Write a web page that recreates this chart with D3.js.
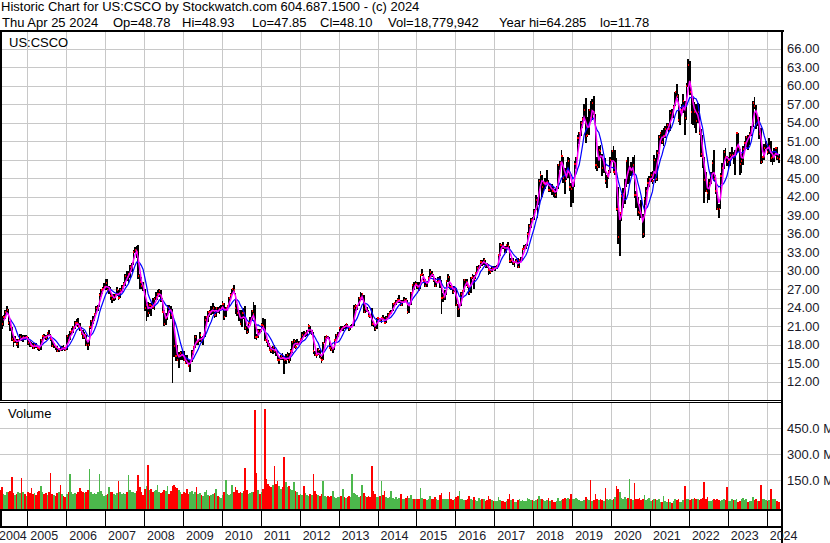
<!DOCTYPE html>
<html>
<head>
<meta charset="utf-8">
<script src="https://cdn.jsdelivr.net/npm/d3@7"></script>
<style>
body { margin: 0; background: #fff; }
svg { display: block; font-family: "Liberation Sans", Arial, sans-serif; }
</style>
</head>
<body>
<svg id="chart" width="830" height="543"></svg>
<script>
// half-month bars (1st-15th, 16th-end), first one is the 2nd half of April 2004
var hi = [
 23.2,22.6,22.8,23.6,24.2,23.8,21.8,20.8,19.5,19.4,19.0,19.0,19.8,19.7,19.6,19.6,19.6,
 19.2,18.6,18.4,18.2,18.3,18.2,18.0,17.6,18.9,19.6,19.8,19.6,20.1,20.4,19.8,18.8,18.2,18.0,17.8,17.5,17.6,17.8,17.9,17.6,
 19.5,19.7,20.3,20.7,21.0,21.8,22.1,22.3,21.6,20.8,20.4,20.0,19.6,18.4,21.0,22.0,22.6,23.2,24.2,24.5,26.4,27.0,27.4,28.0,
 28.6,28.6,27.6,27.4,26.2,26.2,26.3,27.3,26.9,27.2,27.7,28.1,29.4,30.0,30.0,31.0,31.3,33.3,33.8,34.0,34.2,29.4,28.9,28.1,
 27.0,25.0,25.0,24.8,24.8,25.6,25.8,26.6,26.8,27.0,26.9,25.5,23.6,23.2,24.5,24.5,24.2,23.8,22.0,18.9,18.0,16.8,17.0,17.0,
 17.0,16.3,16.4,15.5,15.5,17.2,17.8,19.5,19.6,18.8,20.0,19.3,19.4,22.7,22.7,23.4,23.7,24.3,24.8,24.2,24.1,24.1,24.2,24.4,
 25.1,24.7,24.1,24.5,25.8,26.4,27.1,27.7,26.4,24.6,23.6,23.6,23.7,24.0,24.2,21.0,21.8,22.5,23.6,24.9,24.5,19.8,20.5,20.6,
 21.5,22.3,22.1,19.0,18.8,18.2,17.6,17.8,17.9,17.0,16.9,16.0,16.3,16.6,16.2,16.5,16.8,16.6,17.3,18.6,18.9,18.7,18.9,18.6,
 19.0,20.0,20.2,20.0,20.4,21.3,21.0,20.4,20.1,17.0,16.6,17.4,17.2,16.0,18.5,19.4,19.6,19.4,19.3,18.0,17.6,18.8,19.7,20.0,
 20.8,21.1,21.0,21.2,21.4,21.3,21.0,21.2,21.4,24.5,24.6,24.5,25.8,26.5,26.4,26.0,23.9,24.1,23.6,23.0,24.0,21.5,21.4,22.4,
 22.5,22.4,22.5,22.8,22.5,22.6,23.1,23.4,23.6,24.8,24.9,25.2,25.5,26.0,25.2,25.2,25.8,25.5,25.2,24.6,26.6,27.8,28.1,28.3,
 28.1,28.2,29.5,30.2,29.5,28.6,28.3,29.1,30.3,29.9,29.5,28.8,28.4,28.9,29.1,28.5,26.4,26.8,28.4,29.4,29.2,27.7,27.6,27.6,
 27.2,24.6,24.3,26.6,26.8,28.7,28.7,28.6,27.5,29.0,29.5,29.3,29.8,30.8,31.0,31.8,31.8,32.0,31.7,31.3,31.1,30.4,30.7,30.7,
 30.7,31.0,32.7,34.5,34.3,34.6,34.0,34.4,34.6,34.0,32.0,32.1,31.6,31.9,32.1,31.9,32.3,33.7,34.1,34.4,36.2,37.5,38.5,38.7,
 40.0,42.2,42.0,44.8,46.2,45.5,44.5,45.0,46.4,44.7,44.0,44.0,43.6,43.2,43.8,47.3,47.8,49.5,48.5,46.6,47.6,48.4,48.3,44.2,
 44.4,47.8,48.5,52.0,52.5,54.3,55.0,57.0,58.0,55.0,56.3,57.5,57.8,58.3,55.4,48.5,50.2,50.4,49.0,47.9,48.3,45.5,46.4,48.4,
 49.6,50.3,49.5,48.2,43.5,39.6,42.5,43.4,44.8,48.0,48.5,47.0,47.7,48.4,48.7,43.0,42.0,40.8,41.5,39.2,41.9,43.6,45.1,45.4,
 46.0,46.2,48.8,48.3,49.6,52.0,52.5,52.8,53.2,53.5,54.0,53.9,56.0,56.3,56.9,59.0,60.2,58.6,56.0,57.0,58.7,57.6,60.4,64.3,
 64.0,59.5,58.0,57.3,57.0,57.2,57.0,53.0,52.0,48.5,46.0,43.6,44.8,46.0,48.0,49.5,45.5,42.8,40.8,45.8,47.5,49.5,49.9,48.6,
 48.5,49.3,50.0,49.2,49.5,52.5,52.3,49.8,49.0,50.2,51.0,51.8,52.0,52.5,53.5,57.5,58.2,56.8,55.0,55.0,53.2,48.6,50.6,51.1,
 50.6,51.5,51.1,49.2,49.9,50.0,50.0,48.9
];
var lo = [
 21.4,20.6,21.0,22.2,23.0,21.2,20.2,18.6,17.7,18.2,17.8,17.5,18.6,18.6,18.5,18.8,18.9,
 18.0,17.6,17.6,17.3,17.3,17.5,17.2,16.9,17.2,18.6,19.0,18.8,19.0,19.4,18.6,17.6,17.5,17.2,16.8,16.8,16.9,17.0,17.2,16.9,
 17.1,18.6,18.8,19.7,19.9,20.6,21.1,20.8,20.2,19.6,19.0,18.9,17.8,17.1,17.8,20.6,21.3,21.8,22.9,23.5,24.1,25.8,26.3,27.0,
 26.8,26.5,26.3,25.3,24.8,25.1,25.3,25.9,25.2,25.6,26.5,27.0,27.6,28.4,28.0,28.8,29.8,31.0,32.8,32.1,28.6,27.1,27.1,26.7,
 23.5,21.8,22.5,23.0,22.7,23.8,23.6,25.2,25.2,25.8,25.0,23.2,21.0,21.2,22.0,23.2,22.2,11.8,16.0,15.3,15.4,14.2,15.6,15.6,
 15.3,14.8,14.8,14.4,13.6,15.2,16.3,17.5,18.0,17.9,18.5,18.2,17.9,19.3,21.6,21.7,22.5,22.8,23.0,22.3,22.5,23.2,23.0,23.6,
 23.7,22.0,22.5,23.8,24.2,25.4,26.0,26.5,23.0,22.6,21.8,21.3,20.9,22.2,20.4,19.8,19.9,21.5,21.9,22.7,19.0,18.8,19.1,19.9,
 20.1,20.6,18.6,18.2,17.6,17.0,16.6,16.5,16.6,16.2,15.3,14.9,15.5,15.5,13.3,14.8,15.5,15.1,15.3,16.6,17.5,17.3,17.9,18.0,
 18.2,18.8,19.2,19.2,19.4,20.0,19.7,19.6,16.5,16.1,15.9,16.4,15.8,15.0,15.6,18.3,18.6,18.9,17.4,17.0,16.6,17.2,18.6,19.3,
 19.9,20.4,20.2,20.6,20.6,20.7,20.3,20.4,20.8,21.1,23.5,23.6,24.3,25.3,25.2,23.2,23.2,23.3,22.6,22.3,21.0,20.9,20.3,20.5,
 21.9,21.8,21.5,22.0,21.3,21.5,22.3,22.7,22.9,23.4,24.2,24.4,24.8,24.8,24.2,24.3,24.9,24.9,23.0,23.1,24.4,26.3,26.9,27.6,
 27.1,26.8,27.0,29.2,28.0,27.3,27.3,28.0,28.6,29.0,28.2,27.3,27.3,28.0,27.2,23.0,25.0,25.3,26.1,28.2,27.0,26.9,26.3,26.6,
 24.2,22.5,22.5,24.2,25.8,26.6,27.6,27.2,26.1,26.4,28.6,27.0,28.6,29.7,30.2,30.4,30.7,31.0,30.5,30.4,29.3,29.4,29.8,30.1,
 30.0,30.3,30.7,32.4,33.7,33.5,32.9,32.8,33.5,31.2,31.3,30.9,30.6,31.2,30.4,30.4,31.4,31.8,33.3,33.6,34.0,35.8,37.0,37.9,
 38.3,39.8,38.5,40.6,44.0,42.0,42.6,43.2,44.0,42.8,42.7,42.2,42.0,41.8,41.8,43.2,46.3,47.2,44.2,42.5,44.7,45.0,43.0,40.3,
 40.9,43.5,46.5,48.1,50.5,51.8,53.2,54.5,50.7,51.7,52.0,54.4,54.5,55.2,46.5,46.2,46.7,48.3,45.3,45.8,44.1,43.4,44.8,45.8,
 47.6,45.8,45.5,39.7,34.3,32.4,38.0,40.1,40.8,43.5,44.0,44.2,45.3,45.6,41.8,40.2,38.9,38.2,38.5,35.3,35.4,40.7,42.8,43.5,
 44.4,44.0,44.9,44.3,44.6,49.0,51.1,50.6,50.3,51.6,52.8,52.4,52.7,54.8,54.8,56.7,58.0,54.1,53.7,55.2,55.5,52.0,54.4,59.8,
 58.5,53.8,53.6,53.2,52.4,54.0,52.0,48.5,46.6,41.0,42.8,41.0,41.5,44.0,45.2,44.6,42.5,39.8,38.6,40.0,44.0,46.5,47.8,47.0,
 46.5,47.0,48.2,47.3,45.5,48.8,49.2,45.6,45.9,47.1,49.2,50.0,49.6,50.4,51.8,53.3,56.2,53.0,53.4,51.4,47.3,47.4,48.0,49.8,
 48.7,49.0,47.6,47.2,47.6,48.6,47.9,47.5
];
var cl = [
 22.0,21.3,22.5,23.3,23.7,21.6,20.9,18.9,18.6,18.9,18.1,18.8,19.2,18.9,19.3,19.1,19.3,
 18.2,18.0,17.8,17.5,18.0,17.9,17.4,17.3,18.8,19.4,19.3,19.1,19.9,19.6,18.9,17.8,17.9,17.6,17.0,17.3,17.2,17.5,17.4,17.1,
 19.4,18.7,20.1,20.2,20.8,21.6,21.6,20.9,20.4,19.7,19.2,19.5,18.0,17.9,20.8,21.8,22.0,23.0,24.0,24.2,26.0,26.9,27.0,27.3,
 28.0,26.8,26.9,25.9,25.4,25.6,26.1,26.8,25.6,26.9,27.4,27.8,29.1,28.9,29.5,30.6,31.2,33.1,33.3,33.1,29.2,28.1,27.5,27.1,
 24.0,24.5,23.2,24.4,24.2,24.1,25.4,25.8,26.2,26.7,25.3,23.3,21.4,22.3,24.1,24.0,22.8,22.6,17.8,16.2,15.6,16.3,16.6,16.3,
 15.6,15.0,15.0,14.6,15.3,16.8,17.7,19.3,18.4,18.6,19.6,18.6,19.2,22.0,22.5,23.3,23.3,23.5,24.0,22.8,23.9,23.4,23.8,23.9,
 24.6,22.5,24.0,24.3,25.6,26.0,27.0,26.9,23.9,23.2,22.6,21.3,23.1,23.1,20.7,20.0,21.6,21.9,23.4,22.9,19.3,19.2,20.2,20.2,
 21.2,21.1,18.8,18.6,17.9,17.2,17.0,17.6,16.9,16.8,15.5,15.6,16.1,15.9,15.5,15.6,16.3,15.5,17.0,18.4,18.6,17.6,18.3,18.1,
 19.0,19.6,19.4,19.9,20.2,21.1,19.9,20.1,16.9,16.3,16.3,17.2,15.9,15.5,18.3,19.1,19.4,19.1,17.5,17.1,17.4,18.7,19.5,19.6,
 20.7,20.6,20.9,20.9,21.3,20.9,20.6,20.9,21.2,24.0,24.2,24.3,25.6,25.6,26.2,23.3,23.8,23.4,22.7,22.5,21.3,21.3,20.6,22.3,
 22.4,21.9,22.3,22.1,21.5,22.4,22.8,23.1,23.3,24.6,24.7,24.9,25.2,25.3,24.4,24.9,25.3,25.2,23.3,24.5,26.4,27.7,27.5,27.9,
 27.4,26.8,29.3,29.5,28.3,27.5,28.1,28.8,29.8,29.4,28.5,27.5,28.2,28.4,28.4,25.6,25.7,26.2,28.3,28.9,27.3,27.3,26.6,27.2,
 24.4,23.8,24.2,26.2,26.7,28.5,28.2,27.5,26.4,28.8,29.0,28.7,29.7,30.5,30.8,31.4,31.2,31.7,30.8,30.7,30.1,29.8,30.5,30.2,
 30.5,30.8,32.6,34.2,34.1,33.8,33.1,34.1,34.0,31.5,31.7,31.3,31.4,31.5,30.6,31.8,31.9,33.6,33.9,34.2,35.9,37.3,38.3,38.3,
 39.7,41.5,40.8,44.6,45.6,43.5,44.2,44.3,44.4,43.1,43.7,43.0,43.0,42.3,43.4,47.1,47.4,48.6,45.0,44.5,46.2,47.8,43.5,43.3,
 44.0,47.3,48.2,51.6,52.3,54.0,54.6,56.0,51.9,52.0,56.0,54.7,57.2,55.4,47.2,46.8,49.6,49.4,46.6,47.5,44.6,45.3,46.0,48.0,
 49.4,46.0,47.0,40.0,35.4,39.3,42.1,42.4,44.2,47.8,46.0,46.6,46.3,47.1,42.3,42.2,39.5,39.4,38.9,35.9,41.6,42.9,44.3,44.8,
 45.6,44.6,48.0,44.9,49.1,51.7,52.3,50.9,51.8,52.9,53.6,53.0,55.5,55.4,56.6,59.0,58.3,54.4,55.7,56.0,57.6,54.8,59.9,63.4,
 59.0,55.7,57.2,55.8,54.3,55.8,52.3,49.0,48.4,44.7,43.0,42.6,44.3,45.4,47.5,44.8,43.0,40.0,40.0,45.4,46.6,49.3,48.5,47.6,
 48.0,48.7,48.8,48.4,49.0,52.3,50.0,47.3,47.8,49.7,50.7,51.7,51.5,52.0,53.0,57.2,56.7,53.8,54.7,52.1,47.7,48.4,49.9,50.5,
 49.2,50.3,48.2,48.4,48.6,49.9,48.2,48.1
];
// largest daily volume in each half month, millions
var vol = [
 95,110,70,65,80,85,90,170,75,65,70,80,75,165,85,70,60,
 80,75,105,70,75,65,80,90,115,85,70,75,65,80,195,70,65,60,75,80,125,70,60,55,
 70,85,185,80,70,75,70,85,105,90,80,75,85,95,215,80,70,75,70,80,185,90,70,60,
 65,70,110,85,80,70,65,75,145,80,70,75,70,80,180,95,80,85,75,90,180,110,80,65,
 100,120,240,95,100,85,90,95,125,80,75,85,95,90,115,70,90,120,125,110,105,95,85,70,
 80,75,100,70,85,90,70,85,110,70,75,65,60,80,95,65,60,65,70,75,100,60,55,50,
 65,85,150,70,65,70,125,80,110,95,75,80,75,90,220,95,70,75,80,85,555,190,95,70,
 85,100,560,160,130,115,110,125,235,130,145,120,100,110,285,140,110,120,100,95,140,90,80,65,
 70,65,120,75,65,60,70,65,185,90,70,65,60,70,145,60,55,60,55,60,90,55,50,55,
 55,60,100,55,50,55,60,55,185,75,70,65,55,60,125,75,60,55,60,55,235,90,70,55,
 55,60,145,65,90,55,50,55,90,50,45,55,45,50,70,40,45,50,60,50,65,45,45,40,
 40,45,105,50,40,45,35,40,60,45,40,55,40,35,65,75,45,40,45,40,80,40,35,40,
 55,60,90,45,40,35,35,40,60,40,35,55,35,30,50,35,40,45,30,35,60,40,35,30,
 30,30,55,35,30,30,25,30,40,70,35,40,25,25,35,45,30,35,30,30,50,40,35,35,
 30,35,45,57,40,45,35,30,35,50,30,35,25,25,30,50,30,35,45,50,40,50,45,70,
 40,45,50,45,35,30,30,35,55,40,35,150,30,35,70,45,35,40,35,30,105,40,35,45,
 35,40,55,120,100,80,50,45,55,45,50,155,40,35,135,40,45,50,35,40,65,35,40,50,
 30,35,45,40,35,45,25,25,60,30,25,40,25,20,30,45,35,40,25,25,35,115,40,45,
 35,40,45,50,40,45,35,40,50,138,40,55,30,30,35,45,35,45,35,30,35,40,35,110,
 30,30,40,35,35,40,25,30,45,50,35,45,25,30,30,55,35,45,30,30,123,40,40,35,
 30,35,100,45,40,40,30,25
];
var yearLabels = [2004,2005,2006,2007,2008,2009,2010,2011,2012,2013,2014,2015,2016,2017,2018,2019,2020,2021,2022,2023,2024];
var priceTicks = [12,15,18,21,24,27,30,33,36,39,42,45,48,51,54,57,60,63,66];
var volTicks = [150,300,450];
var headLine1 = "Historic Chart for US:CSCO by Stockwatch.com 604.687.1500 - (c) 2024";
var headFields = ["Thu Apr 25 2024", "Op=48.78", "Hi=48.93", "Lo=47.85", "Cl=48.10", "Vol=18,779,942", "Year hi=64.285", "lo=11.78"];

var svg = d3.select("#chart");
var plotR = 782,
    priceTop = 32, priceBot = 400,
    volTop = 403, volBot = 509;

var x = d3.scaleTime()
    .domain([new Date(2005, 0, 1), new Date(2024, 0, 1)])
    .range([27.3, 766.7]);
var y = d3.scaleLinear().domain([12, 66]).range([381.7, 48.7]);
var yv = d3.scaleLinear().domain([0, 450]).range([506.3, 428.3]);

// period boundaries
var periods = [];
for (var m = new Date(2004, 3, 1); m < new Date(2024, 4, 1); m = d3.timeMonth.offset(m, 1)) {
    var half = new Date(m.getFullYear(), m.getMonth(), 16);
    if (m > new Date(2004, 3, 1)) periods.push([m, half]);
    periods.push([half, d3.timeMonth.offset(m, 1)]);
}
var bars = periods.map(function(p, i) {
    return {x0: x(p[0]), x1: x(p[1]), xm: x(new Date((+p[0] + +p[1]) / 2)),
            hi: hi[i], lo: lo[i], cl: cl[i], vol: vol[i],
            up: i > 0 && cl[i] > cl[i - 1]};
});

function sma(arr, n) {
    return arr.map(function(d, i) {
        return i < n - 1 ? null : d3.mean(arr.slice(i - n + 1, i + 1));
    });
}
var fast = sma(cl, 3), slow = sma(cl, 7);

var yearX = yearLabels.map(function(yr) { return x(new Date(yr, 0, 1)); });

// grid
var grid = svg.append("g").attr("stroke", "#c8c8c8").attr("shape-rendering", "crispEdges");
grid.selectAll(".hp").data(priceTicks).enter().append("line")
    .attr("x1", 0).attr("x2", plotR)
    .attr("y1", function(d) { return Math.round(y(d)) + 0.5; })
    .attr("y2", function(d) { return Math.round(y(d)) + 0.5; });
grid.selectAll(".hv").data(volTicks).enter().append("line")
    .attr("x1", 0).attr("x2", plotR)
    .attr("y1", function(d) { return Math.round(yv(d)) + 0.5; })
    .attr("y2", function(d) { return Math.round(yv(d)) + 0.5; });
yearX.forEach(function(gx) {
    if (gx < 1) return;
    var px = Math.round(gx) + 0.5;
    grid.append("line").attr("x1", px).attr("x2", px).attr("y1", priceTop).attr("y2", priceBot);
    grid.append("line").attr("x1", px).attr("x2", px).attr("y1", volTop).attr("y2", volBot);
});

// volume
svg.append("g").attr("shape-rendering", "crispEdges")
  .selectAll("rect").data(bars).enter().append("rect")
    .attr("x", function(d) { return d.x0; })
    .attr("width", function(d) { return d.x1 - d.x0; })
    .attr("y", function(d) { return yv(d.vol); })
    .attr("height", function(d) { return volBot - yv(d.vol); })
    .attr("fill", function(d) { return d.up ? "#4cb84c" : "#ff0000"; });

// price bars
var pg = svg.append("g").attr("shape-rendering", "crispEdges");
pg.selectAll(".bar").data(bars).enter().append("rect")
    .attr("x", function(d) { return d.x0; })
    .attr("width", function(d) { return d.x1 - d.x0; })
    .attr("y", function(d) { return y(d.hi); })
    .attr("height", function(d) { return y(d.lo) - y(d.hi); })
    .attr("fill", "#000");
pg.selectAll(".tick").data(bars).enter().append("rect")
    .attr("x", function(d) { return d.x1 - 1; })
    .attr("width", 1.2)
    .attr("y", function(d) { return y(d.cl) - 1; })
    .attr("height", 2)
    .attr("fill", "#ff0000");

// moving averages
function maLine(vals) {
    return d3.line()
        .defined(function(d, i) { return vals[i] != null; })
        .x(function(d) { return d.xm; })
        .y(function(d, i) { return y(vals[i]); });
}
svg.append("path").datum(bars).attr("d", maLine(slow))
    .attr("fill", "none").attr("stroke", "#0000ff").attr("stroke-width", 1.2);
svg.append("path").datum(bars).attr("d", maLine(fast))
    .attr("fill", "none").attr("stroke", "#ff00ff").attr("stroke-width", 1.5);

// frame
var fr = svg.append("g").attr("fill", "#000").attr("shape-rendering", "crispEdges");
fr.append("rect").attr("x", 0).attr("y", 30).attr("width", plotR + 2).attr("height", 2);
fr.append("rect").attr("x", 0).attr("y", priceTop).attr("width", 2).attr("height", priceBot - priceTop);
fr.append("rect").attr("x", 0).attr("y", priceBot).attr("width", plotR).attr("height", 1);
fr.append("rect").attr("x", 0).attr("y", priceBot + 2).attr("width", plotR).attr("height", 1);
fr.append("rect").attr("x", 0).attr("y", volBot).attr("width", plotR).attr("height", 2);
fr.append("rect").attr("x", 0).attr("y", 526).attr("width", plotR).attr("height", 2);
fr.append("rect").attr("x", plotR - 1).attr("y", 30).attr("width", 2).attr("height", 513);
fr.append("rect").attr("x", 0).attr("y", volBot).attr("width", 1.5).attr("height", 17);
yearX.forEach(function(gx) {
    if (gx < 1) return;
    fr.append("rect").attr("x", Math.round(gx) - 0.5).attr("y", volBot).attr("width", 1.5).attr("height", 17);
});

// text
var txt = svg.append("g").attr("font-size", 13).attr("fill", "#000");
txt.append("text").attr("x", 1).attr("y", 11).text(headLine1);
var fieldX = [2, 113, 182, 252, 320, 388, 499, 600];
headFields.forEach(function(f, i) {
    txt.append("text").attr("x", fieldX[i]).attr("y", 27).text(f);
});
txt.append("text").attr("x", 9).attr("y", 46.5).text("US:CSCO");
txt.append("text").attr("x", 8).attr("y", 417.5).text("Volume");

var ax = svg.append("g").attr("font-size", 13).attr("fill", "#1a1a2a");
ax.selectAll(".pl").data(priceTicks).enter().append("text")
    .attr("x", 787).attr("y", function(d) { return y(d) + 4.5; })
    .text(function(d) { return d3.format(".2f")(d); });
ax.selectAll(".vl").data(volTicks).enter().append("text")
    .attr("x", 787).attr("y", function(d) { return yv(d) + 4.5; })
    .text(function(d) { return d3.format(".1f")(d) + " M"; });
ax.selectAll(".yl").data(yearLabels).enter().append("text")
    .attr("font-size", 12.5)
    .attr("x", function(d, i) { return Math.max(yearX[i] + 3, -1); })
    .attr("y", 539.5)
    .text(function(d) { return d; });
</script>
</body>
</html>
